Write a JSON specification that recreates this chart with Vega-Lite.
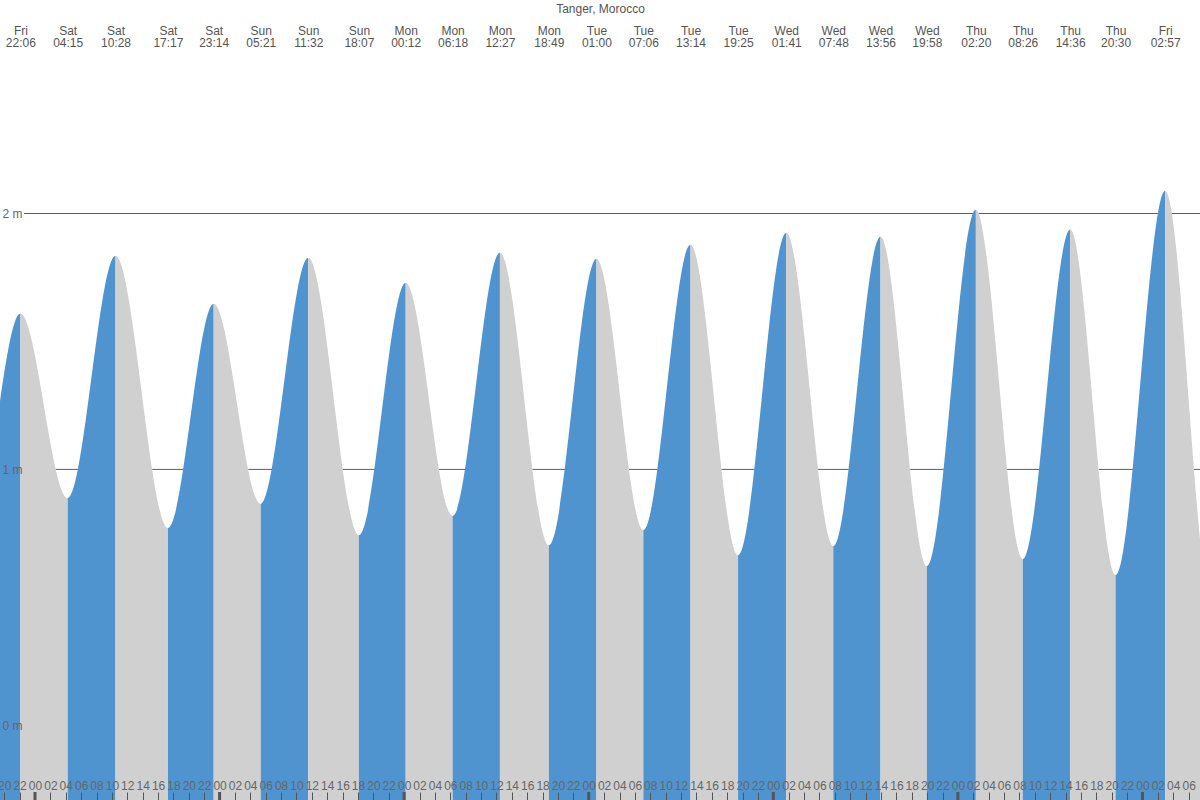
{
  "$schema": "https://vega.github.io/schema/vega-lite/v6.json",
  "width": 1200,
  "height": 800,
  "padding": 0,
  "autosize": {"type": "none"},
  "background": "white",
  "config": {"view": {"stroke": null}},
  "datasets": {
    "extremes": [
      {"t": -14.2, "h": 1.80},
      {"t": -8.0333, "h": 0.75},
      {"t": -1.9, "h": 1.609},
      {"t": 4.25, "h": 0.888},
      {"t": 10.4667, "h": 1.835},
      {"t": 17.2833, "h": 0.771},
      {"t": 23.2333, "h": 1.647},
      {"t": 29.35, "h": 0.865},
      {"t": 35.5333, "h": 1.827},
      {"t": 42.1167, "h": 0.743},
      {"t": 48.2, "h": 1.729},
      {"t": 54.3, "h": 0.818},
      {"t": 60.45, "h": 1.847},
      {"t": 66.8167, "h": 0.704},
      {"t": 73.0, "h": 1.823},
      {"t": 79.1, "h": 0.763},
      {"t": 85.2333, "h": 1.878},
      {"t": 91.4167, "h": 0.665},
      {"t": 97.6833, "h": 1.925},
      {"t": 103.8, "h": 0.700},
      {"t": 109.9333, "h": 1.909},
      {"t": 115.9667, "h": 0.622},
      {"t": 122.3333, "h": 2.015},
      {"t": 128.4333, "h": 0.649},
      {"t": 134.6, "h": 1.937},
      {"t": 140.5, "h": 0.587},
      {"t": 146.95, "h": 2.089},
      {"t": 153.0833, "h": 0.45},
      {"t": 159.3, "h": 1.95}
    ],
    "phases": [
      {"from": -8.0333, "to": -1.9, "phase": "rise"},
      {"from": -1.9, "to": 4.25, "phase": "fall"},
      {"from": 4.25, "to": 10.4667, "phase": "rise"},
      {"from": 10.4667, "to": 17.2833, "phase": "fall"},
      {"from": 17.2833, "to": 23.2333, "phase": "rise"},
      {"from": 23.2333, "to": 29.35, "phase": "fall"},
      {"from": 29.35, "to": 35.5333, "phase": "rise"},
      {"from": 35.5333, "to": 42.1167, "phase": "fall"},
      {"from": 42.1167, "to": 48.2, "phase": "rise"},
      {"from": 48.2, "to": 54.3, "phase": "fall"},
      {"from": 54.3, "to": 60.45, "phase": "rise"},
      {"from": 60.45, "to": 66.8167, "phase": "fall"},
      {"from": 66.8167, "to": 73.0, "phase": "rise"},
      {"from": 73.0, "to": 79.1, "phase": "fall"},
      {"from": 79.1, "to": 85.2333, "phase": "rise"},
      {"from": 85.2333, "to": 91.4167, "phase": "fall"},
      {"from": 91.4167, "to": 97.6833, "phase": "rise"},
      {"from": 97.6833, "to": 103.8, "phase": "fall"},
      {"from": 103.8, "to": 109.9333, "phase": "rise"},
      {"from": 109.9333, "to": 115.9667, "phase": "fall"},
      {"from": 115.9667, "to": 122.3333, "phase": "rise"},
      {"from": 122.3333, "to": 128.4333, "phase": "fall"},
      {"from": 128.4333, "to": 134.6, "phase": "rise"},
      {"from": 134.6, "to": 140.5, "phase": "fall"},
      {"from": 140.5, "to": 146.95, "phase": "rise"},
      {"from": 146.95, "to": 153.0833, "phase": "fall"}
    ],
    "gridsegs": [
      {"level": 2, "from": -1.43, "to": 121.94},
      {"level": 2, "from": 122.71, "to": 145.995},
      {"level": 2, "from": 147.82, "to": 152.5},
      {"level": 1, "from": 2.716, "to": 5.582},
      {"level": 1, "from": 15.242, "to": 19.276},
      {"level": 1, "from": 27.734, "to": 30.806},
      {"level": 1, "from": 40.033, "to": 44.151},
      {"level": 1, "from": 52.549, "to": 55.948},
      {"level": 1, "from": 64.696, "to": 68.902},
      {"level": 1, "from": 77.233, "to": 80.923},
      {"level": 1, "from": 89.278, "to": 93.537},
      {"level": 1, "from": 101.827, "to": 105.793},
      {"level": 1, "from": 113.803, "to": 118.147},
      {"level": 1, "from": 126.41, "to": 130.55},
      {"level": 1, "from": 138.332, "to": 142.726},
      {"level": 1, "from": 150.7, "to": 152.5}
    ],
    "days": [
      {"t": 0}, {"t": 24}, {"t": 48}, {"t": 72}, {"t": 96}, {"t": 120}, {"t": 144}
    ]
  },
  "layer": [
    {
      "data": {"name": "phases"},
      "mark": {"type": "rect", "clip": true},
      "encoding": {
        "x": {
          "field": "from", "type": "quantitative",
          "scale": {"domain": [-4.551, 151.479], "nice": false, "zero": false},
          "axis": {
            "orient": "bottom", "offset": -8, "title": null, "domain": false, "grid": false,
            "ticks": true, "tickSize": 8, "tickColor": "#555555", "tickWidth": 1,
            "values": [-4, -2, 0, 2, 4, 6, 8, 10, 12, 14, 16, 18, 20, 22, 24, 26, 28, 30, 32, 34, 36, 38, 40, 42, 44, 46, 48, 50, 52, 54, 56, 58, 60, 62, 64, 66, 68, 70, 72, 74, 76, 78, 80, 82, 84, 86, 88, 90, 92, 94, 96, 98, 100, 102, 104, 106, 108, 110, 112, 114, 116, 118, 120, 122, 124, 126, 128, 130, 132, 134, 136, 138, 140, 142, 144, 146, 148, 150],
            "labelExpr": "format(((datum.value % 24) + 24) % 24, '02d')",
            "labelFont": "Liberation Sans", "labelFontSize": 12, "labelColor": "#666666",
            "labelPadding": -11, "labelBaseline": "alphabetic",
            "labelOverlap": false, "labelFlush": false, "zindex": 1
          }
        },
        "x2": {"field": "to"},
        "color": {"field": "phase", "type": "nominal", "scale": {"domain": ["rise", "fall"], "range": ["#4f94cf", "#d0d0d0"]}, "legend": null}
      }
    },
    {
      "data": {"name": "extremes"},
      "mark": {"type": "area", "interpolate": "monotone", "color": "white", "clip": true},
      "encoding": {
        "x": {
          "field": "t", "type": "quantitative",
          "scale": {"domain": [-4.551, 151.479], "nice": false, "zero": false},
          "axis": {
            "orient": "top", "offset": -37.5, "title": "Tanger, Morocco",
            "titleFont": "Liberation Sans", "titleFontSize": 12, "titleFontWeight": "normal", "titleColor": "#555555",
            "titleX": 600, "titleY": -25.5, "titleBaseline": "alphabetic", "titleAlign": "center",
            "values": [-1.9, 4.25, 10.4667, 17.2833, 23.2333, 29.35, 35.5333, 42.1167, 48.2, 54.3, 60.45, 66.8167, 73.0, 79.1, 85.2333, 91.4167, 97.6833, 103.8, 109.9333, 115.9667, 122.3333, 128.4333, 134.6, 140.5, 146.95, 153.0833],
            "labelExpr": "[['Fri','Sat','Sun','Mon','Tue','Wed','Thu','Fri'][floor(datum.value / 24) + 1], format(((floor(datum.value) % 24) + 24) % 24, '02d') + ':' + format(round((datum.value - floor(datum.value)) * 60), '02d')]",
            "labelFont": "Liberation Sans", "labelFontSize": 12, "labelColor": "#555555", "labelLineHeight": 12,
            "labelBaseline": "bottom", "labelPadding": 0, "ticks": false, "tickSize": 0,
            "domain": false, "grid": false, "labelOverlap": false, "labelFlush": false, "zindex": 1
          }
        },
        "y": {
          "field": "h", "type": "quantitative",
          "scale": {"domain": [-0.2919, 2.8343], "nice": false, "zero": false},
          "axis": {
            "orient": "left", "offset": -24, "values": [0, 1, 2], "labelExpr": "datum.value + ' m'",
            "title": null, "domain": false, "ticks": false, "tickSize": 0, "grid": false,
            "labelFont": "Liberation Sans", "labelPadding": 2, "labelFontSize": 12, "labelColor": "#666666", "labelBaseline": "middle",
            "labelOverlap": false, "labelFlush": false, "zindex": 1
          }
        },
        "y2": {"datum": 3.2}
      }
    },
    {
      "data": {"name": "gridsegs"},
      "mark": {"type": "rule", "color": "#5c5c5c", "strokeWidth": 1, "clip": true},
      "encoding": {
        "x": {"field": "from", "type": "quantitative"},
        "x2": {"field": "to"},
        "y": {
          "field": "level", "type": "quantitative",
          "axis": {
            "orient": "left", "offset": -24, "values": [0, 1, 2], "labelExpr": "datum.value + ' m'",
            "title": null, "domain": false, "ticks": false, "tickSize": 0, "grid": false,
            "labelFont": "Liberation Sans", "labelPadding": 2, "labelFontSize": 12, "labelColor": "#666666", "labelBaseline": "middle",
            "labelOverlap": false, "labelFlush": false, "zindex": 1
          }
        }
      }
    },
    {
      "data": {"name": "days"},
      "mark": {"type": "rule", "color": "#555555", "strokeWidth": 3},
      "encoding": {
        "x": {"field": "t", "type": "quantitative"},
        "y": {"datum": -0.2919},
        "y2": {"datum": -0.2606}
      }
    }
  ]
}
